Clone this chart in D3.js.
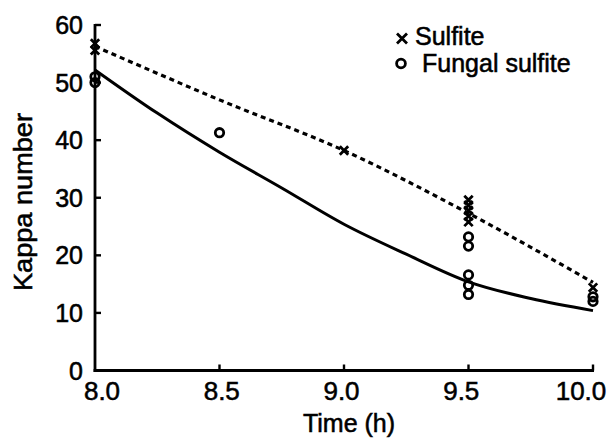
<!DOCTYPE html>
<html>
<head>
<meta charset="utf-8">
<script src="https://cdn.jsdelivr.net/npm/d3@7"></script>
<style>
  html, body { margin: 0; padding: 0; background: #fff; }
  svg { display: block; }
  text { font-family: "Liberation Sans", Arial, Helvetica, sans-serif; fill: #000; stroke: #000; stroke-width: 0.55px; }
</style>
</head>
<body>
<svg id="chart" width="615" height="442"></svg>
<script>
// ---- data ----
const sulfiteX = [8.0, 8.0, 9.0, 9.5, 9.5, 9.5, 9.5, 9.5, 10.0];
const sulfiteY = [56.8, 55.6, 38.2, 29.6, 28.7, 27.8, 26.8, 25.8, 14.4];
const fungalX = [8.0, 8.0, 8.5, 9.5, 9.5, 9.5, 9.5, 9.5, 10.0, 10.0];
const fungalY = [51.0, 50.0, 41.3, 23.2, 21.6, 16.6, 14.8, 13.2, 12.8, 12.0];
const sulfiteFitX = [8.0, 8.5, 9.0, 9.5, 10.0];
const sulfiteFitY = [56.3, 47.0, 38.2, 27.3, 15.3];
const fungalFitX = [8.0, 8.25, 8.5, 8.75, 9.0, 9.25, 9.5, 9.75, 10.0];
const fungalFitY = [52.2, 44.7, 37.9, 31.7, 25.4, 20.2, 15.4, 12.5, 10.4];
const xTicks = [8.0, 8.5, 9.0, 9.5, 10.0];
const xTickLabels = ["8.0", "8.5", "9.0", "9.5", "10.0"];
const yTicks = [0, 10, 20, 30, 40, 50, 60];
const legendLabels = ["Sulfite", "Fungal sulfite"];
const xTitle = "Time (h)";
const yTitle = "Kappa number";

const svg = d3.select("#chart");
const x = d3.scaleLinear().domain([8, 10]).range([95, 593]);
const xLab = d3.scaleLinear().domain([8, 10]).range([102, 581]);
const y = d3.scaleLinear().domain([0, 60]).range([370.5, 25]);

const axisW = 2.8;
// axes lines
svg.append("line").attr("x1", x(8)).attr("x2", x(8)).attr("y1", y(60) - 1).attr("y2", y(0) + axisW / 2)
  .attr("stroke", "#000").attr("stroke-width", axisW);
svg.append("line").attr("x1", x(8) - axisW / 2).attr("x2", x(10) + 1).attr("y1", y(0)).attr("y2", y(0))
  .attr("stroke", "#000").attr("stroke-width", axisW);

// y ticks (inward)
svg.append("g").selectAll("line").data(yTicks.filter(d => d > 0)).join("line")
  .attr("x1", x(8)).attr("x2", x(8) + 6).attr("y1", d => y(d)).attr("y2", d => y(d))
  .attr("stroke", "#000").attr("stroke-width", 2.4);
svg.append("g").selectAll("text").data(yTicks).join("text")
  .attr("x", 83).attr("y", d => y(d)).attr("dy", "0.36em")
  .attr("text-anchor", "end").attr("font-size", 25).text(d => d);

// x ticks (inward)
svg.append("g").selectAll("line").data(xTicks.filter(d => d > 8)).join("line")
  .attr("x1", d => x(d)).attr("x2", d => x(d)).attr("y1", y(0)).attr("y2", y(0) - 6)
  .attr("stroke", "#000").attr("stroke-width", 2.4);
svg.append("g").selectAll("text").data(xTicks).join("text")
  .attr("x", d => xLab(d)).attr("y", 400)
  .attr("text-anchor", "middle").attr("font-size", 26).text((d, i) => xTickLabels[i]);

// titles
svg.append("text").attr("x", 349).attr("y", 432).attr("text-anchor", "middle")
  .attr("font-size", 25).text(xTitle);
svg.append("text").attr("transform", "translate(32,202) rotate(-90)")
  .attr("text-anchor", "middle").attr("font-size", 26)
  .attr("textLength", 178).attr("lengthAdjust", "spacingAndGlyphs").text(yTitle);

// fit lines
const line = d3.line().x(d => x(d[0])).y(d => y(d[1])).curve(d3.curveMonotoneX);
svg.append("path").datum(sulfiteFitX.map((v, i) => [v, sulfiteFitY[i]]))
  .attr("d", line).attr("fill", "none").attr("stroke", "#000")
  .attr("stroke-width", 3.2).attr("stroke-dasharray", "5,4");
svg.append("path").datum(fungalFitX.map((v, i) => [v, fungalFitY[i]]))
  .attr("d", line).attr("fill", "none").attr("stroke", "#000").attr("stroke-width", 3);

// markers
const cross = s => `M${-s},${-s}L${s},${s}M${-s},${s}L${s},${-s}`;
svg.append("g").selectAll("path").data(sulfiteX.map((v, i) => [v, sulfiteY[i]])).join("path")
  .attr("transform", d => `translate(${x(d[0])},${y(d[1])})`)
  .attr("d", cross(4.2)).attr("stroke", "#000").attr("stroke-width", 2.8).attr("fill", "none");
svg.append("g").selectAll("circle").data(fungalX.map((v, i) => [v, fungalY[i]])).join("circle")
  .attr("cx", d => x(d[0])).attr("cy", d => y(d[1])).attr("r", 4.2)
  .attr("stroke", "#000").attr("stroke-width", 2.8).attr("fill", "none");

// legend
const lg = svg.append("g");
lg.append("path").attr("transform", "translate(402,38.5)").attr("d", cross(5))
  .attr("stroke", "#000").attr("stroke-width", 2.8).attr("fill", "none");
lg.append("circle").attr("cx", 401).attr("cy", 63.5).attr("r", 4.4)
  .attr("stroke", "#000").attr("stroke-width", 2.8).attr("fill", "none");
lg.append("text").attr("x", 415).attr("y", 45).attr("font-size", 25).text(legendLabels[0]);
lg.append("text").attr("x", 422).attr("y", 72).attr("font-size", 25).text(legendLabels[1]);
</script>
</body>
</html>
